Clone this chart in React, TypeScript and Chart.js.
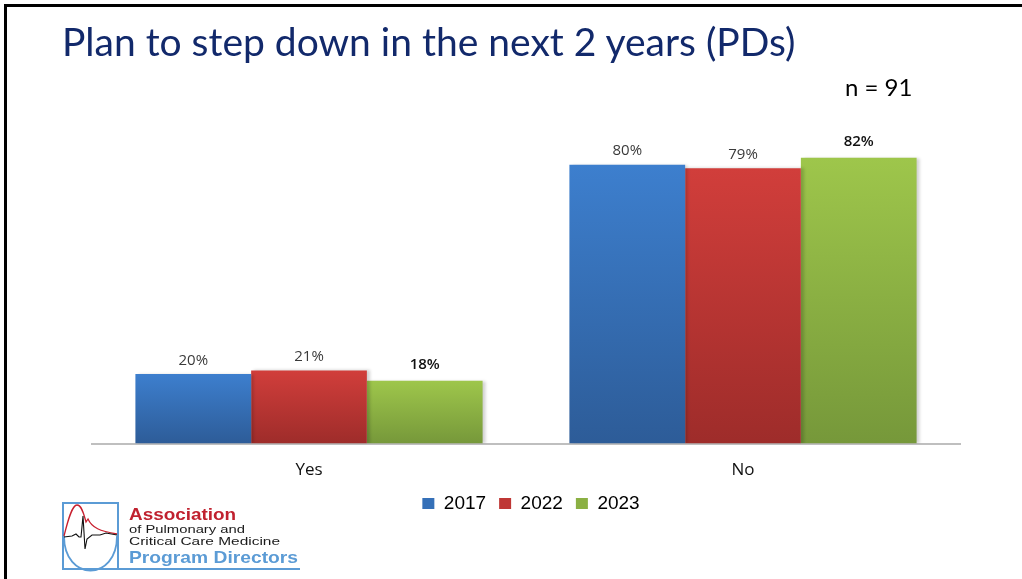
import React, { useEffect, useRef } from "react";
import { Chart, registerables } from "chart.js";
Chart.register(...registerables);

const categories = ["Yes", "No"];
const seriesNames = ["2017", "2022", "2023"];
const values2017 = [20, 80];
const values2022 = [21, 79];
const values2023 = [18, 82];
const yMin = 0;
const yMax = 100;

const gradTop = ["#3D7FCE", "#D13E3B", "#9EC64B"];
const gradBottom = ["#2D5C98", "#9E2C2A", "#76983A"];
const legendColors = ["#3570B8", "#BF3735", "#8BB043"];
const labelColors = ["#3a3a3a", "#3a3a3a", "#111111"];
const labelWeights = ["normal", "normal", "600"];
const labelOffsets = [6, 6, 9];

const seriesValues = [values2017, values2022, values2023];

function makeBg(i: number) {
  return (ctx: any) => {
    const chart = ctx.chart;
    const { chartArea, scales } = chart;
    if (!chartArea || ctx.type !== "data" || !scales.y) return legendColors[i];
    const v = ctx.raw as number;
    const yTop = scales.y.getPixelForValue(v);
    const yBase = scales.y.getPixelForValue(0);
    if (!isFinite(yTop) || !isFinite(yBase) || yTop === yBase) return legendColors[i];
    const g = chart.ctx.createLinearGradient(0, yTop, 0, yBase);
    g.addColorStop(0, gradTop[i]);
    g.addColorStop(1, gradBottom[i]);
    return g;
  };
}

const shadowPlugin = {
  id: "barShadow",
  beforeDatasetsDraw(chart: any) {
    const c = chart.ctx;
    c.save();
    c.shadowColor = "rgba(0,0,0,0.18)";
    c.shadowOffsetX = 3;
    c.shadowOffsetY = 0;
    c.shadowBlur = 3;
  },
  afterDatasetsDraw(chart: any) {
    chart.ctx.restore();
  },
};

const legendShiftPlugin = {
  id: "legendShift",
  afterLayout(chart: any) {
    const lg = chart.legend;
    if (!lg) return;
    lg.top -= 15;
    lg.bottom -= 15;
    lg.left += 5;
    lg.right += 5;
  },
};

const labelPlugin = {
  id: "barLabels",
  afterDatasetsDraw(chart: any) {
    const c = chart.ctx;
    c.save();
    c.textAlign = "center";
    c.textBaseline = "bottom";
    chart.data.datasets.forEach((ds: any, i: number) => {
      const meta = chart.getDatasetMeta(i);
      meta.data.forEach((el: any, j: number) => {
        c.font = `${labelWeights[i]} 15px "Open Sans", "Liberation Sans", sans-serif`;
        c.fillStyle = labelColors[i];
        c.fillText(`${ds.data[j]}%`, el.x, el.y - labelOffsets[i]);
      });
    });
    c.restore();
  },
};

function Logo() {
  return (
    <svg
      width={260}
      height={80}
      style={{ position: "absolute", left: 50, top: 495 }}
      viewBox="50 495 260 80"
    >
      <rect x={63} y={503} width={55} height={66} fill="none" stroke="#5B9BD5" strokeWidth={2} />
      <path d="M64,536 C64,582 117,582 117,536" fill="none" stroke="#5B9BD5" strokeWidth={1.8} />
      <path
        d="M64,536 C68,520 72,505 77,505 C82,505 84,515 86,522 L88,519 C92,528 100,531 117,534"
        fill="none"
        stroke="#C8202F"
        strokeWidth={1.3}
      />
      <path
        d="M64,537 L72,536 L76,534 L79,537 L81,537 L83,516 L85,549 L87,539 L92,535 L100,535 L106,533 L117,535"
        fill="none"
        stroke="#111"
        strokeWidth={1.1}
      />
      <line x1={62} y1={569} x2={300} y2={569} stroke="#5B9BD5" strokeWidth={2} />
      <text x={129} y={520} fill="#C0212F" fontFamily="Liberation Sans, Arial, sans-serif" fontWeight="bold" fontSize={16} textLength={107} lengthAdjust="spacingAndGlyphs">
        Association
      </text>
      <text x={129} y={533} fill="#1a1a1a" fontFamily="Liberation Sans, Arial, sans-serif" fontSize={11} textLength={116} lengthAdjust="spacingAndGlyphs">
        of Pulmonary and
      </text>
      <text x={129} y={545} fill="#1a1a1a" fontFamily="Liberation Sans, Arial, sans-serif" fontSize={11} textLength={151} lengthAdjust="spacingAndGlyphs">
        Critical Care Medicine
      </text>
      <text x={129} y={563} fill="#5B9BD5" fontFamily="Liberation Sans, Arial, sans-serif" fontWeight="bold" fontSize={17} textLength={169} lengthAdjust="spacingAndGlyphs">
        Program Directors
      </text>
    </svg>
  );
}

export default function App() {
  const canvasRef = useRef<HTMLCanvasElement | null>(null);

  useEffect(() => {
    if (!canvasRef.current) return;
    const chart = new Chart(canvasRef.current, {
      type: "bar",
      data: {
        labels: categories,
        datasets: seriesNames.map((name, i) => ({
          label: name,
          data: seriesValues[i],
          backgroundColor: makeBg(i) as any,
          borderWidth: 0,
          categoryPercentage: 0.8,
          barPercentage: 1.0,
        })),
      },
      options: {
        animation: false,
        responsive: false,
        maintainAspectRatio: false,
        events: [],
        layout: { padding: { left: 92, right: 62, top: 95, bottom: 41 } },
        scales: {
          x: {
            grid: { display: false, drawTicks: false },
            border: { display: true, color: "#BFBFBF", width: 2 },
            ticks: {
              color: "#111",
              padding: 16,
              font: { size: 17, family: '"Open Sans", "Liberation Sans", sans-serif' },
            },
          },
          y: {
            display: false,
            min: yMin,
            max: yMax,
          },
        },
        plugins: {
          legend: {
            position: "bottom",
            labels: {
              boxWidth: 12,
              boxHeight: 11,
              padding: 13,
              color: "#111",
              font: { size: 19, family: '"Liberation Sans", Arial, sans-serif' },
              generateLabels: (ch: any) =>
                ch.data.datasets.map((ds: any, i: number) => ({
                  text: ds.label,
                  fillStyle: legendColors[i],
                  strokeStyle: legendColors[i],
                  lineWidth: 0,
                  hidden: false,
                  datasetIndex: i,
                })),
            },
          },
          tooltip: { enabled: false },
        },
      },
      plugins: [legendShiftPlugin, shadowPlugin, labelPlugin],
    });
    return () => chart.destroy();
  }, []);

  return (
    <div style={{ position: "absolute", left: 0, top: 0, width: 1022, height: 579, background: "#fff", overflow: "hidden" }}>
      <div
        style={{
          position: "absolute",
          left: 4,
          top: 4,
          width: 1030,
          height: 600,
          borderTop: "3px solid #000",
          borderLeft: "3px solid #000",
        }}
      />
      <canvas ref={canvasRef} width={1022} height={579} style={{ position: "absolute", left: 0, top: 0 }} />
      <div
        style={{
          position: "absolute",
          left: 62,
          top: 17,
          fontFamily: "Lato, sans-serif",
          fontSize: 39,
          color: "#12296B",
          whiteSpace: "nowrap",
          lineHeight: "48px",
        }}
      >
        Plan to step down in the next 2 years (PDs)
      </div>
      <div
        style={{
          position: "absolute",
          left: 845,
          top: 72,
          fontFamily: "Lato, sans-serif",
          fontSize: 24,
          color: "#000",
          whiteSpace: "nowrap",
          lineHeight: "30px",
        }}
      >
        n = 91
      </div>
      <Logo />
    </div>
  );
}
